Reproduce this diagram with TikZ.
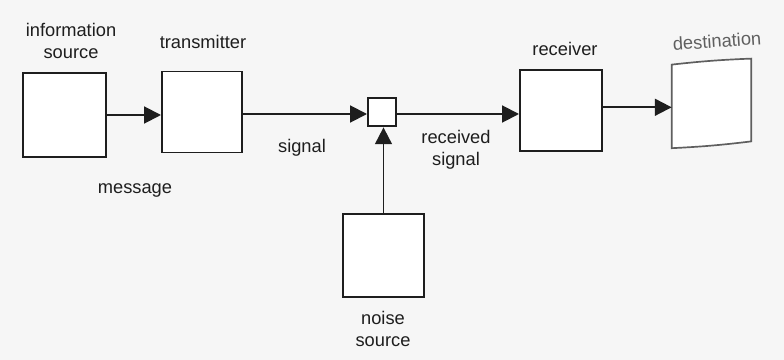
\documentclass[tikz,border=0pt]{standalone}
\usepackage{fontspec}
\setmainfont{Liberation Sans}
\usetikzlibrary{arrows.meta,positioning,calc}
\definecolor{ink}{RGB}{30,30,30}
\definecolor{paper}{RGB}{246,246,246}
\definecolor{faded}{RGB}{95,95,95}

\begin{document}
\begin{tikzpicture}[x=0.025cm,y=-0.025cm,>={Triangle[length=0.42cm,width=0.42cm]},
  block/.style={rectangle,draw=ink,line width=1.4pt,fill=white,inner sep=0pt},
  lbl/.style={draw=none,fill=none,text=ink,align=center,font=\fontsize{13}{15.6}\selectfont},
  flow/.style={->,ink,line width=1.4pt}]
  \fill[paper] (0,0) rectangle (784,360);
  \useasboundingbox (0,0) rectangle (784,360);
  % blocks
  \node[block,minimum width=2.075cm,minimum height=2.1cm] (src) at (64.5,115) {};
  \node[block,minimum width=2cm,minimum height=2.025cm] (tx) at (202,112) {};
  \node[block,minimum width=0.7cm,minimum height=0.72cm] (mix) at (382,112) {};
  \node[block,minimum width=2.05cm,minimum height=2.025cm] (rx) at (561,110.5) {};
  \node[block,minimum width=2.025cm,minimum height=2.075cm] (noise) at (383.5,255.5) {};
  \node[minimum width=1.975cm,minimum height=2.075cm,inner sep=0pt] (dest) at (711.5,104) {};
  \draw[faded,line width=1.2pt,fill=white] ([yshift=-0.06cm]dest.north west) to[bend left=2] ([yshift=0.09cm]dest.north east)
    -- ([yshift=0.11cm]dest.south east) to[bend left=2] ([yshift=-0.06cm]dest.south west) -- cycle;
  % labels
  \node[lbl] (srclbl) at (71,41) {information\\source};
  \node[lbl] (txlbl) at (203,42) {transmitter};
  \node[lbl] (msglbl) at (135,190) {message};
  \node[lbl] (siglbl) at (302,148) {signal};
  \node[lbl] (rsiglbl) at (456,150) {received\\signal};
  \node[lbl] (rxlbl) at (565,49) {receiver};
  \node[lbl,text=faded,rotate=4] (destlbl) at (717,41) {destination};
  \node[lbl] (noiselbl) at (383,329) {noise\\source};
  % connectors
  \draw[flow] (src.east) -- (src.east -| tx.west);
  \draw[flow] ([yshift=-0.05cm]tx.east) -- ([yshift=-0.05cm]tx.east -| mix.west);
  \draw[flow] ([yshift=-0.05cm]mix.east) -- ([yshift=-0.05cm]mix.east -| rx.west);
  \draw[flow] ([yshift=0.08cm]rx.east) -- ([yshift=0.08cm]rx.east -| dest.west);
  \draw[flow] (noise.north) -- (noise.north |- mix.south);
\end{tikzpicture}
\end{document}
